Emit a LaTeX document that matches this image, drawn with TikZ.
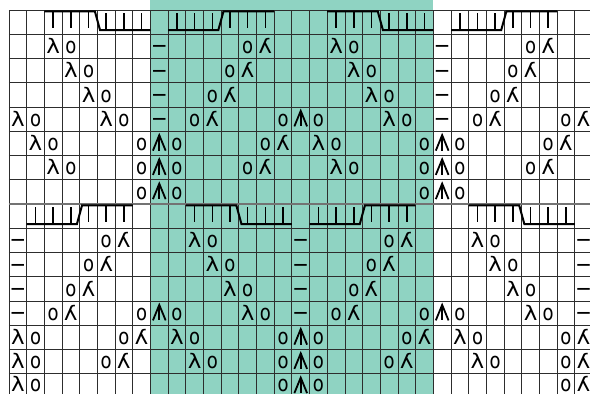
\documentclass[tikz,border=0pt]{standalone}
\usepackage{fontspec}
\usepackage{graphicx}
\newfontfamily\symfont{DejaVu Sans}
\definecolor{tealbg}{RGB}{143,211,194}
\definecolor{gridc}{RGB}{45,45,45}
\newcommand\lamsym{\scalebox{1.15}[1]{λ}}
\newcommand\rlamsym{\reflectbox{\scalebox{1.15}[1]{λ}}}
\newcommand\osym{\scalebox{0.9}[1.1]{o}}
\newcommand\dashsym{\scalebox{1.55}[1.3]{–}}
\tikzset{
  gridline/.style={draw=gridc, line width=0.8pt},
  halfline/.style={draw=black!55, line width=2pt},
  sym/.style={font=\symfont\fontsize{20}{20}\selectfont, inner sep=0pt, anchor=base},
  cablebar/.style={draw=black, line width=2pt, line cap=butt, line join=miter},
  cabletick/.style={draw=black, line width=1.5pt, line cap=butt},
  decsym/.style={draw=black, line width=1.8pt, line join=miter, line cap=butt},
}
\begin{document}
\begin{tikzpicture}[x=17.68pt,y=-24.25pt]
\useasboundingbox (-9pt,10pt) rectangle (581pt,-384pt);
% teal band
\fill[tealbg] (8,0) ++(0pt,10pt) rectangle (24,15.84);
% grid
\foreach \j in {0,...,15} \draw[gridline] (0,\j) -- (32.87,\j);
\foreach \k in {0,...,32} \draw[gridline] (\k,0) -- (\k,15.84);
\draw[halfline] (0,8) -- (32.87,8);
% cables: top-left to bottom-right
\foreach \r/\c in {1/3,1/19,9/11,9/27}{
  \draw[cablebar] ({\c-1},{\r-0.94}) -- ({\c+1.86},{\r-0.94}) -- ({\c+2.15},{\r-0.17}) -- ({\c+5},{\r-0.17});
  \foreach \k in {0,1,2} \draw[cabletick] ({\c+\k-0.5},{\r-0.94}) -- ({\c+\k-0.5},{\r-0.25});
  \foreach \k in {3,4,5} \draw[cabletick] ({\c+\k-0.5},{\r-0.86}) -- ({\c+\k-0.5},{\r-0.17});
}
% cables: bottom-left to top-right
\foreach \r/\c in {1/10,1/26,9/2,9/18}{
  \draw[cablebar] ({\c-1},{\r-0.17}) -- ({\c+1.84},{\r-0.17}) -- ({\c+2.13},{\r-0.94}) -- ({\c+5},{\r-0.94});
  \foreach \k in {0,1,2} \draw[cabletick] ({\c+\k-0.5},{\r-0.86}) -- ({\c+\k-0.5},{\r-0.17});
  \foreach \k in {3,4,5} \draw[cabletick] ({\c+\k-0.5},{\r-0.94}) -- ({\c+\k-0.5},{\r-0.25});
}
% lambda + o
\foreach \r/\c in {2/3,2/19,3/4,3/20,4/5,4/21,5/1,5/6,5/22,6/2,6/18,7/3,7/19,10/11,10/27,11/12,11/28,12/13,12/29,13/14,13/30,14/1,14/10,14/26,15/1,15/11,15/27,16/1}{
  \node[sym] (lam-\r-\c) at ({\c-0.5},{\r-0.204-0.07*(\r==16)}) {\lamsym};
  \node[sym] (yoa-\r-\c) at ({\c+0.5},{\r-0.204-0.07*(\r==16)}) {\osym};
}
% o + mirrored lambda
\foreach \r/\c in {2/14,2/30,3/13,3/29,4/12,4/28,5/11,5/27,5/32,6/15,6/31,7/14,7/30,10/6,10/22,11/5,11/21,12/4,12/20,13/3,13/19,14/7,14/23,14/32,15/6,15/22,15/32,16/32}{
  \node[sym] (yob-\r-\c) at ({\c-0.5},{\r-0.204-0.07*(\r==16)}) {\osym};
  \node[sym] (rlam-\r-\c) at ({\c+0.5},{\r-0.204-0.07*(\r==16)}) {\rlamsym};
}
% o + double decrease + o
\foreach \r/\c in {5/16,6/8,6/24,7/8,7/24,8/8,8/24,13/8,13/24,14/16,15/16,16/16}{
  \node[sym] (yoc-\r-\c) at ({\c-0.5},{\r-0.204-0.07*(\r==16)}) {\osym};
  \node[sym] (yod-\r-\c) at ({\c+1.5},{\r-0.204-0.07*(\r==16)}) {\osym};
  \draw[decsym] ({\c+0.5-0.36},{\r-0.20}) -- ({\c+0.5},{\r-0.84}) -- ({\c+0.5+0.36},{\r-0.20});
  \draw[decsym] ({\c+0.5},{\r-0.84}) -- ({\c+0.5},{\r-0.20});
}
% purl dashes
\foreach \r/\c in {2/9,2/25,3/9,3/25,4/9,4/25,5/9,5/25,10/1,10/17,10/33,11/1,11/17,11/33,12/1,12/17,12/33,13/1,13/17,13/33}{
  \node[sym] (purl-\r-\c) at ({\c-0.5},{\r-0.19}) {\dashsym};
}
\end{tikzpicture}
\end{document}
